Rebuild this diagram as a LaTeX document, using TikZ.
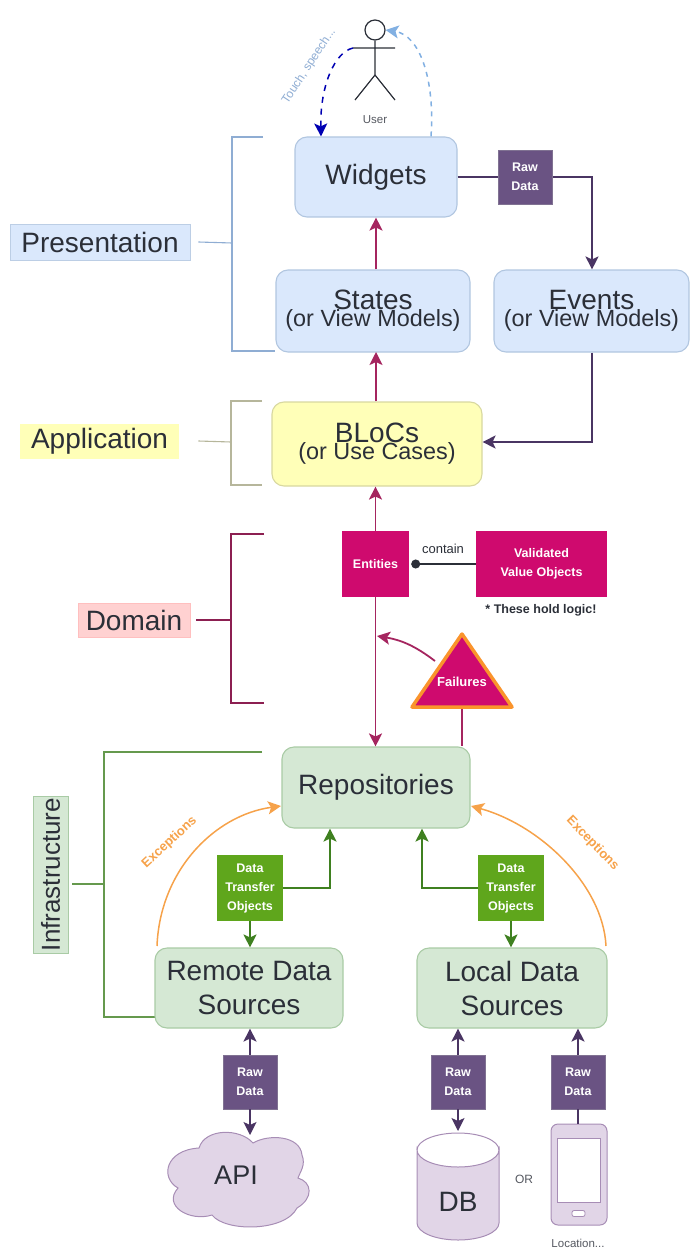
\documentclass[tikz,border=0pt]{standalone}
\usepackage{fontspec}
\setmainfont{Liberation Sans}
\usetikzlibrary{arrows.meta,calc,shapes.geometric}
\definecolor{blueF}{HTML}{DAE8FC}\definecolor{blueD}{HTML}{8FADD3}
\definecolor{yelF}{HTML}{FFFFB8}\definecolor{yelD}{HTML}{D8D8A0}
\definecolor{greF}{HTML}{D5E8D4}\definecolor{greD}{HTML}{A9CBA5}
\definecolor{purF}{HTML}{E1D5E7}\definecolor{purD}{HTML}{A78DB5}
\definecolor{rawF}{HTML}{6A5383}\definecolor{rawL}{HTML}{4A3563}
\definecolor{magF}{HTML}{CF0A6E}\definecolor{marL}{HTML}{A5255F}
\definecolor{orgL}{HTML}{F6A24A}\definecolor{dtoF}{HTML}{5FA61C}\definecolor{dtoL}{HTML}{3F8020}
\definecolor{txtD}{HTML}{2B2F38}
\newcommand{\fz}[2]{\fontsize{#1}{#2}\selectfont}
\tikzset{
 box/.style={rectangle,rounded corners=12pt,inner sep=0pt,align=center,text=txtD,line width=1.1pt},
 bluebox/.style={box,fill=blueF,draw=blueD!70},
 yelbox/.style={box,fill=yelF,draw=yelD},
 grebox/.style={box,fill=greF,draw=greD},
 big/.style={font=\fz{28}{34}},
 tag/.style={rectangle,inner sep=0pt,align=center,text=white,font=\fz{12.5}{19}\bfseries},
 rawtag/.style={tag,fill=rawF,draw=rawL!70,minimum width=54pt,minimum height=54pt},
 dtotag/.style={tag,fill=dtoF,minimum width=66pt,minimum height=66pt},
 magtag/.style={tag,fill=magF,minimum height=66pt},
 lab/.style={rectangle,inner sep=0pt,text=txtD,font=\fz{28}{34},line width=.8pt},
 tip/.style={-{Stealth[length=13pt,width=13pt,inset=3pt]}},
 rawline/.style={draw=rawL,line width=1.6pt,tip},
 marline/.style={draw=marL,line width=1.8pt,tip},
 greline/.style={draw=dtoL,line width=1.6pt,tip},
 orgline/.style={draw=orgL,line width=1.5pt,tip},
 brk/.style={line width=1.1pt},
 small/.style={inner sep=0pt,text=txtD!80},
 excl/.style={inner sep=0pt,text=orgL,font=\fz{13}{15}\bfseries},
}
\begin{document}
\begin{tikzpicture}[x=1pt,y=-1pt]
\useasboundingbox (0,0) rectangle (689,1249);
% brackets
\coordinate (pt) at (263,137);\coordinate (pc) at (232,137);\coordinate (pb) at (232,351);\coordinate (pe) at (275,351);\coordinate (pm) at (232,243);
\coordinate (at) at (262,401);\coordinate (ac) at (231,401);\coordinate (ab) at (231,485);\coordinate (ae) at (262,485);\coordinate (am) at (231,442);
\coordinate (dt) at (264,534);\coordinate (dc) at (231,534);\coordinate (db1) at (231,703);\coordinate (de) at (264,703);\coordinate (dm) at (231,620);
\coordinate (it) at (262,752);\coordinate (ic) at (104,752);\coordinate (ib) at (104,1017);\coordinate (ie) at (155,1017);\coordinate (im) at (104,884);
\draw[brk,draw=blueD] (pt)--(pc)--(pb)--(pe);
\draw[brk,draw=yelD!70!black!70] (at)--(ac)--(ab)--(ae);
\draw[brk,draw=marL!85!black] (dt)--(dc)--(db1)--(de);
\draw[brk,draw=dtoL!80] (it)--(ic)--(ib)--(ie);
% layer labels
\node[lab,fill=blueF,draw=blueD!60,minimum width=180pt,minimum height=36pt] (lp) at (100,242) {Presentation};
\node[lab,fill=yelF,minimum width=159pt,minimum height=35pt] (la) at (99.5,441) {Application};
\node[lab,fill=red!20!white,draw=red!25!white,fill=red!18!white,minimum width=112pt,minimum height=34pt] (ld) at (134,620) {Domain};
\node[lab,fill=greF,draw=greD,minimum width=157pt,minimum height=35pt,rotate=90,font=\fz{26}{30}] (li) at (50.5,874.5) {Infrastructure};
\draw[brk,draw=blueD] (lp.east)++(8,0)--(pm);
\draw[brk,draw=yelD!70!black!70] (la.east)++(19,0)--(am);
\draw[brk,draw=marL!85!black] (ld.east)++(6,0)--(dm);
\draw[brk,draw=dtoL!80] (72,884)--(im);
% main boxes
\node[bluebox,big,minimum width=162pt,minimum height=80pt] (widgets) at (376,177) {Widgets};
\node[bluebox,minimum width=194pt,minimum height=82pt] (states) at (373,311) {{\fz{28}{34}States}\\[-1pt]{\fz{23.4}{28}(or View Models)}};
\node[bluebox,minimum width=195pt,minimum height=82pt] (events) at (591.5,311) {{\fz{28}{34}Events}\\[-1pt]{\fz{23.4}{28}(or View Models)}};
\node[yelbox,minimum width=210pt,minimum height=84pt] (blocs) at (377,444) {{\fz{28}{34}BLoCs}\\[-1pt]{\fz{23.4}{28}(or Use Cases)}};
\node[grebox,big,minimum width=188pt,minimum height=81pt] (repo) at (376,787.5) {Repositories};
\node[grebox,big,minimum width=188pt,minimum height=80pt] (remote) at (249,988) {Remote Data\\Sources};
\node[grebox,big,minimum width=190pt,minimum height=80pt] (local) at (512,988) {Local Data\\Sources};
% domain
\node[magtag,minimum width=67pt] (entities) at (375.5,564) {Entities};
\node[magtag,minimum width=131pt] (vvo) at (541.5,564) {Validated\\Value Objects};
\node[inner sep=0pt,text=txtD,font=\fz{13}{15}] (contain) at (443,549) {contain};
\node[inner sep=0pt,text=txtD,font=\fz{12.5}{15}\bfseries] (hold) at (541,610) {* These hold logic!};
\draw[line width=1.5pt,draw=txtD,-{Circle[length=9pt,width=9pt]},shorten >=2pt] (vvo.west)--(entities.east);
% failures
\draw[fill=magF,draw=orgL!60!orange,line width=3.5pt,line join=round] (462,634)--(512,707)--(412,707)--cycle;
\node[inner sep=0pt,text=white,font=\fz{13}{15}\bfseries] (failures) at (462,682) {Failures};
\coordinate (fb) at (462,709);\coordinate (fa) at (435,661);\coordinate (fj) at (377,636);
% vertical maroon
\draw[marline] (states.north -| widgets.south)--(widgets.south);
\draw[marline] (blocs.north -| states.south)++(3,0)--(376,352);
\draw[marline] (entities.north)--(entities.north |- blocs.south);
\draw[marline] (entities.south)--(entities.south |- repo.north);
\draw[draw=marL,line width=1.8pt] (fb)--(fb |- repo.north);
\draw[marline] (fa) to[bend right=14] (fj);
% raw top
\coordinate (ec) at (592,177);
\draw[rawline] (widgets.east)--(ec)--(ec |- events.north);
\node[rawtag] (rawtop) at (525,177) {Raw\\Data};
\coordinate (ec2) at (592,442);
\draw[rawline] (events.south -| ec2)--(ec2)--(blocs.east |- ec2);
% DTO
\node[dtotag] (dtol) at (250,888) {Data\\Transfer\\Objects};
\node[dtotag] (dtor) at (511,888) {Data\\Transfer\\Objects};
\coordinate (gl) at (330,888);\coordinate (gr) at (422,888);
\draw[greline] (dtol.east)--(gl)--(gl |- repo.south);
\draw[greline] (dtor.west)--(gr)--(gr |- repo.south);
\draw[greline] (dtol.south)--(dtol.south |- remote.north);
\draw[greline] (dtor.south)--(dtor.south |- local.north);
% exceptions
\coordinate (xl) at (157,946);\coordinate (xr) at (606,946);\coordinate (rl) at (281,806);\coordinate (rr) at (471,806);
\draw[orgline] (xl) .. controls (160,870) and (215,815) .. (rl);
\draw[orgline] (xr) .. controls (603,885) and (540,825) .. (rr);
\node[excl,rotate=43] (el) at (169.5,842.5) {Exceptions};
\node[excl,rotate=-46] (er) at (592.5,843.5) {Exceptions};
% raw bottom
\node[rawtag] (raw1) at (250,1082) {Raw\\Data};
\node[rawtag] (raw2) at (458,1082) {Raw\\Data};
\node[rawtag] (raw3) at (578,1082) {Raw\\Data};
% cloud
\draw[fill=purF,draw=purD,line width=1pt] (199,1148) .. controls (205,1128) and (240,1128) .. (253,1143)
 .. controls (268,1134) and (300,1135) .. (302,1155) .. controls (306,1165) and (300,1172) .. (298,1178)
 .. controls (312,1182) and (314,1198) .. (297,1208) .. controls (285,1232) and (225,1232) .. (212,1215)
 .. controls (190,1222) and (162,1206) .. (178,1188) .. controls (160,1178) and (165,1150) .. (199,1148) -- cycle;
\node[inner sep=0pt,text=txtD,font=\fz{28}{34},minimum width=146pt,minimum height=91pt] (api) at (238,1180) {};
\node[inner sep=0pt,text=txtD,font=\fz{27}{34}] (apit) at (236,1175) {API};
\coordinate (apitop) at (250,1135);
% db
\draw[fill=purF,draw=purD,line width=1pt] (417,1150) arc[start angle=180,end angle=0,x radius=41,y radius=17] -- (499,1223) arc[start angle=0,end angle=180,x radius=41,y radius=17] -- cycle;
\draw[draw=purD,line width=1pt] (417,1150) arc[start angle=180,end angle=360,x radius=41,y radius=17];
\node[inner sep=0pt,text=txtD,font=\fz{28}{34}] (dbt) at (458,1202) {DB};
\coordinate (dbtop) at (458,1131);
\node[inner sep=0pt,text=txtD!80,font=\fz{12}{14}] (ort) at (524,1179) {OR};
% phone
\node[rectangle,rounded corners=7pt,fill=purF,draw=purD,line width=1pt,minimum width=56pt,minimum height=101pt,inner sep=0pt] (phone) at (579,1174.5) {};
\node[rectangle,fill=white,draw=purD,line width=.6pt,minimum width=43pt,minimum height=64pt,inner sep=0pt] (screen) at (578.5,1170) {};
\node[rectangle,rounded corners=2pt,fill=white,draw=purD,line width=.8pt,minimum width=13pt,minimum height=6pt,inner sep=0pt] (btn) at (578.5,1213.5) {};
\node[inner sep=0pt,text=txtD!80,font=\fz{11.5}{14}] (loc) at (578,1243) {Location...};
% raw lines
\draw[rawline] (raw1.north)--(raw1.north |- remote.south);
\draw[rawline] (raw2.north)--(raw2.north |- local.south);
\draw[rawline] (raw3.north)--(raw3.north |- local.south);
\draw[rawline] (raw1.south)--(apitop);
\draw[rawline] (raw2.south)--(dbtop);
\draw[draw=rawL,line width=1.6pt] (raw3.south)--(raw3.south |- phone.north);
% user
\node[draw=txtD,fill=white,circle,line width=1.2pt,minimum size=20pt,inner sep=0pt] (head) at (375,30) {};
\coordinate (la1) at (353,48);\coordinate (ra1) at (395,48);\coordinate (neck) at (375,48);\coordinate (hip) at (375,75);\coordinate (lf) at (355,100);\coordinate (rf) at (395,100);
\draw[draw=txtD,line width=1.2pt] (head.south)--(hip)--(lf) (hip)--(rf) (la1)--(ra1);
\node[inner sep=0pt,text=txtD!80,font=\fz{11.5}{14}] (usr) at (375,120) {User};
\draw[tip,dashed,draw=blue!70!black,line width=1.5pt,dash pattern=on 6pt off 6pt] (la1) .. controls (335,52) and (320,85) .. (widgets.north -| 321,0);
\draw[tip,dashed,draw=cyan!60!blue!50,line width=1.5pt,dash pattern=on 5pt off 5pt] (widgets.north -| 431,0) .. controls (435,80) and (420,35) .. (head.east);
\node[inner sep=0pt,text=blueD,font=\fz{12}{14},rotate=56.6] (touch) at (309,66) {Touch, speech...};
\end{tikzpicture}
\end{document}
